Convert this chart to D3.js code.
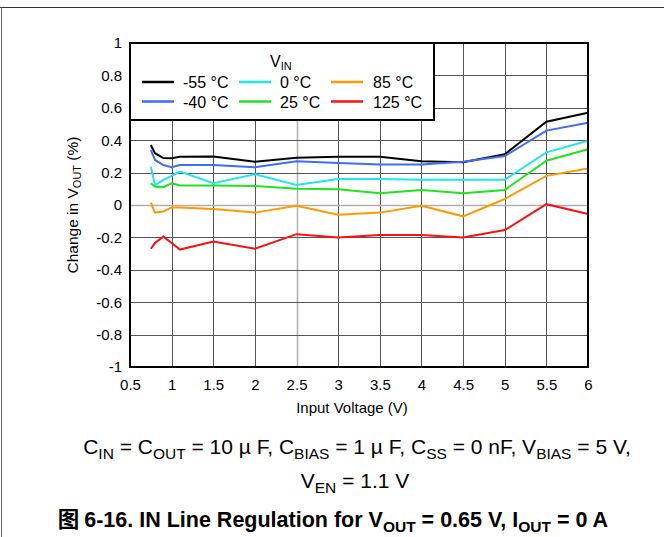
<!DOCTYPE html>
<html>
<head>
<meta charset="utf-8">
<script src="https://cdn.jsdelivr.net/npm/d3@7"></script>
<style>
  body { margin: 0; background: #fff; }
  svg text { font-family: "Liberation Sans", Arial, sans-serif; fill: #000; }
</style>
</head>
<body>
<svg id="chart" width="664" height="537"></svg>
<script>
// ---- data ----
const inputVoltage = [0.75, 0.8, 0.9, 1.0, 1.1, 1.5, 2, 2.5, 3, 3.5, 4, 4.5, 5, 5.5, 6]
const tempLabels = ['-55 °C', '-40 °C', '0 °C', '25 °C', '85 °C', '125 °C']
const tempColors = ['#000000', '#3f6df5', '#1ee8f0', '#1ee61e', '#ff9a00', '#ff1010']
const vM55 = [0.37, 0.32, 0.29, 0.288, 0.298, 0.30, 0.267, 0.292, 0.298, 0.298, 0.27, 0.264, 0.313, 0.514, 0.57]
const vM40 = [0.34, 0.278, 0.247, 0.233, 0.247, 0.247, 0.233, 0.27, 0.26, 0.25, 0.25, 0.267, 0.302, 0.459, 0.508]
const v0 = [0.237, 0.123, 0.154, 0.18, 0.206, 0.134, 0.19, 0.123, 0.16, 0.16, 0.156, 0.156, 0.156, 0.325, 0.397]
const v25 = [0.134, 0.113, 0.11, 0.134, 0.12, 0.12, 0.117, 0.10, 0.097, 0.072, 0.093, 0.072, 0.093, 0.273, 0.344]
const v85 = [0.015, -0.047, -0.04, -0.015, -0.015, -0.025, -0.047, -0.005, -0.06, -0.047, -0.005, -0.07, 0.037, 0.18, 0.225]
const v125 = [-0.27, -0.235, -0.195, -0.235, -0.275, -0.226, -0.27, -0.18, -0.2, -0.185, -0.185, -0.2, -0.155, 0.005, -0.055]
const seriesValues = [vM55, vM40, v0, v25, v85, v125]
const xTicks = d3.range(0.5, 6.01, 0.5)
const yTicks = d3.range(-1, 1.01, 0.2).map(v => +v.toFixed(1))

const svg = d3.select('#chart')
const plotLeft = 130, plotRight = 588, plotTop = 43, plotBottom = 367

const x = d3.scaleLinear().domain([0.5, 6]).range([plotLeft, plotRight])
const y = d3.scaleLinear().domain([-1, 1]).range([plotBottom, plotTop])

// outer frame lines
svg.append('line').attr('x1', 0).attr('x2', 664).attr('y1', 7.5).attr('y2', 7.5)
    .attr('stroke', '#333').attr('stroke-width', 1)
svg.append('line').attr('x1', 1.5).attr('x2', 1.5).attr('y1', 7).attr('y2', 537)
    .attr('stroke', '#666').attr('stroke-width', 1)

// grid
let grid = svg.append('g')
grid.selectAll('.gx').data(xTicks.slice(1, -1)).enter().append('line')
    .attr('x1', d => Math.round(x(d)) + 0.5).attr('x2', d => Math.round(x(d)) + 0.5)
    .attr('y1', plotTop).attr('y2', plotBottom)
    .attr('stroke', d => d === 2.5 ? '#b0b0b0' : '#555').attr('stroke-width', d => d === 2.5 ? 1.5 : 1)
grid.selectAll('.gy').data(yTicks.slice(1, -1)).enter().append('line')
    .attr('x1', plotLeft).attr('x2', plotRight)
    .attr('y1', d => Math.round(y(d)) + 0.5).attr('y2', d => Math.round(y(d)) + 0.5)
    .attr('stroke', d => d === 0 ? '#b0b0b0' : '#555').attr('stroke-width', d => d === 0 ? 1.5 : 1)

// series lines
let line = d3.line().x((d, i) => x(inputVoltage[i])).y(d => y(d))
seriesValues.forEach((vals, i) => {
    svg.append('path').datum(vals).attr('d', line)
        .attr('fill', 'none').attr('stroke', tempColors[i]).attr('stroke-width', 2)
})

// plot border
svg.append('rect').attr('x', plotLeft).attr('y', plotTop)
    .attr('width', plotRight - plotLeft).attr('height', plotBottom - plotTop)
    .attr('fill', 'none').attr('stroke', '#000').attr('stroke-width', 2)

// axes
let xAxis = d3.axisBottom(x).tickValues(xTicks).tickSize(0).tickPadding(12).tickFormat(d3.format('~g'))
svg.append('g').attr('transform', `translate(0,${plotBottom})`).call(xAxis)
    .call(g => g.select('.domain').remove())
    .selectAll('text').attr('font-size', 15).attr('font-family', '"Liberation Sans", Arial, sans-serif')
let yAxis = d3.axisLeft(y).tickValues(yTicks).tickSize(0).tickPadding(8).tickFormat(d3.format('~g'))
svg.append('g').attr('transform', `translate(${plotLeft},0)`).call(yAxis)
    .call(g => g.select('.domain').remove())
    .selectAll('text').attr('font-size', 15).attr('font-family', '"Liberation Sans", Arial, sans-serif')
    .text(d => d3.format('~g')(d).replace('−', '-'))
svg.selectAll('.tick text').attr('fill', '#000')

svg.append('text').attr('x', 352).attr('y', 413).attr('text-anchor', 'middle')
    .attr('font-size', 15).text('Input Voltage (V)')

let yTitle = svg.append('text').attr('transform', 'translate(78,205) rotate(-90)')
    .attr('text-anchor', 'middle').attr('font-size', 15.5)
yTitle.append('tspan').text('Change in V')
yTitle.append('tspan').text('OUT').attr('font-size', 11).attr('dy', 3)
yTitle.append('tspan').text(' (%)').attr('dy', -3)

// legend
let lg = svg.append('g')
lg.append('rect').attr('x', plotLeft).attr('y', plotTop).attr('width', 304).attr('height', 77)
    .attr('fill', '#fff').attr('stroke', '#000').attr('stroke-width', 2)
let lt = lg.append('text').attr('x', 270).attr('y', 67).attr('font-size', 16)
lt.append('tspan').text('V')
lt.append('tspan').text('IN').attr('font-size', 11).attr('dy', 3)
let legCols = [142, 239, 331]
let legText = [183, 280, 373]
tempLabels.forEach((name, i) => {
    let col = Math.floor(i / 2), row = i % 2
    let ly = 82 + row * 19.5
    lg.append('line').attr('x1', legCols[col]).attr('x2', legCols[col] + 32)
        .attr('y1', ly).attr('y2', ly).attr('stroke', tempColors[i]).attr('stroke-width', 2.5)
    lg.append('text').attr('x', legText[col]).attr('y', ly + 6).attr('font-size', 16).text(name)
})

// caption
let cap = svg.append('text').attr('x', 357).attr('y', 454).attr('text-anchor', 'middle').attr('font-size', 21)
let parts = [['C', 'IN', ' = C'], ['', 'OUT', ' = 10  µ F, C'], ['', 'BIAS', ' = 1  µ F, C'], ['', 'SS', ' = 0 nF, V'], ['', 'BIAS', ' = 5 V,']]
parts.forEach(p => {
    if (p[0]) cap.append('tspan').text(p[0])
    cap.append('tspan').text(p[1]).attr('font-size', 15.5).attr('dy', 5)
    cap.append('tspan').text(p[2]).attr('dy', -5)
})
let cap2 = svg.append('text').attr('x', 355).attr('y', 488).attr('text-anchor', 'middle').attr('font-size', 21)
cap2.append('tspan').text('V')
cap2.append('tspan').text('EN').attr('font-size', 15.5).attr('dy', 5)
cap2.append('tspan').text(' = 1.1 V').attr('dy', -5)

let title = svg.append('text').attr('x', 333).attr('y', 527).attr('text-anchor', 'middle')
    .attr('font-size', 21.5).attr('font-weight', 'bold')
title.append('tspan').text('图 ').attr('font-family', '"Noto Sans CJK SC", sans-serif')
title.append('tspan').text('6-16. IN Line Regulation for V')
title.append('tspan').text('OUT').attr('font-size', 15.5).attr('dy', 5)
title.append('tspan').text(' = 0.65 V, I').attr('dy', -5)
title.append('tspan').text('OUT').attr('font-size', 15.5).attr('dy', 5)
title.append('tspan').text(' = 0 A').attr('dy', -5)
</script>
</body>
</html>
